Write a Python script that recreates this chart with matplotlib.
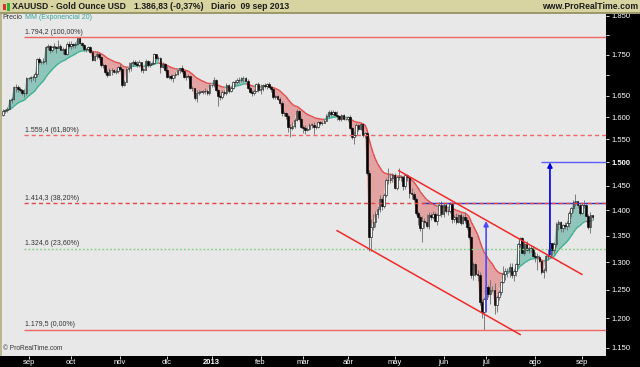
import numpy as np
import pandas as pd
import matplotlib
matplotlib.use('Agg')
import matplotlib.pyplot as plt
from matplotlib.patches import Rectangle
from matplotlib.collections import LineCollection
from matplotlib.ticker import NullLocator

plt.rcParams['font.family'] = ['Liberation Sans', 'DejaVu Sans']

# XAUUSD daily, 16 ago 2012 -> 09 sep 2013 (weekdays)
dates = pd.bdate_range('2012-08-16', '2013-09-09')
first_open = 1606

closes = [
    1615, 1616, 1620, 1639, 1643, 1670, 1671, 1665, 1664, 1657, 1656, 1692,
    1692, 1695, 1694, 1702, 1740, 1731, 1733, 1734, 1769, 1772, 1761, 1770, 1770, 1768, 1773, 1763, 1764, 1752, 1778, 1772,
    1776, 1775, 1778, 1792, 1780, 1775, 1764, 1764, 1769, 1757, 1738, 1746, 1752, 1744, 1724, 1724, 1707, 1701, 1712, 1713, 1708, 1709, 1719,
    1715, 1676, 1684, 1715, 1716, 1730, 1731, 1728, 1724, 1731, 1713, 1713, 1735, 1725, 1728, 1729, 1751, 1742, 1743, 1720, 1726, 1712,
    1695, 1697, 1693, 1699, 1702, 1711, 1716, 1710, 1696, 1697, 1697, 1669, 1668, 1645, 1657, 1660, 1660, 1661, 1661, 1656, 1676,
    1676, 1688, 1664, 1650, 1646, 1660, 1656, 1676, 1661, 1668, 1682, 1683, 1688, 1687, 1692, 1692, 1685, 1669, 1658, 1656, 1662, 1677, 1663,
    1667, 1675, 1673, 1677, 1670, 1667, 1648, 1649, 1643, 1634, 1609, 1610, 1604, 1577, 1576, 1581, 1593, 1615, 1595, 1578,
    1576, 1572, 1574, 1583, 1583, 1577, 1578, 1589, 1587, 1588, 1592, 1604, 1613, 1607, 1613, 1606, 1604, 1597, 1605, 1596, 1596,
    1600, 1576, 1555, 1560, 1582, 1574, 1584, 1559, 1564, 1477, 1348, 1368, 1377, 1392, 1402, 1424, 1410, 1431, 1463, 1462, 1467, 1473,
    1446, 1468, 1469, 1468, 1450, 1472, 1468, 1435, 1433, 1424, 1394, 1386, 1365, 1379, 1377, 1370, 1391, 1386, 1392, 1379, 1391, 1411, 1392,
    1411, 1398, 1398, 1414, 1383, 1387, 1378, 1390, 1375, 1387, 1382, 1367, 1348, 1276, 1297, 1278, 1276, 1228, 1211, 1234,
    1254, 1242, 1250, 1249, 1223, 1236, 1246, 1264, 1278, 1284, 1283, 1291, 1277, 1283, 1296, 1335, 1346, 1318, 1335, 1322, 1327, 1324, 1312,
    1310, 1310, 1303, 1282, 1285, 1311, 1312, 1336, 1322, 1335, 1374, 1377, 1366, 1372, 1369, 1376, 1395, 1405, 1418, 1419, 1411, 1395,
    1412, 1411, 1389, 1367, 1391, 1387,
]
highs = [
    1620, 1620, 1624, 1642, 1648, 1673, 1677, 1676, 1671, 1667, 1665, 1694,
    1696, 1697, 1700, 1707, 1741, 1745, 1737, 1741, 1772, 1778, 1774, 1772, 1779, 1772, 1787, 1776, 1770, 1766, 1781, 1786,
    1786, 1780, 1781, 1796, 1796, 1783, 1777, 1768, 1772, 1772, 1759, 1750, 1756, 1754, 1748, 1730, 1727, 1712, 1716, 1717, 1715, 1715, 1723,
    1726, 1718, 1688, 1719, 1732, 1733, 1738, 1738, 1734, 1736, 1733, 1718, 1739, 1738, 1735, 1733, 1754, 1752, 1748, 1745, 1731, 1730,
    1722, 1700, 1702, 1700, 1707, 1713, 1718, 1724, 1712, 1700, 1703, 1697, 1673, 1669, 1664, 1664, 1662, 1663, 1669, 1665, 1677,
    1678, 1694, 1690, 1665, 1652, 1663, 1664, 1680, 1679, 1673, 1685, 1688, 1693, 1694, 1695, 1697, 1694, 1691, 1673, 1663, 1667, 1681, 1684,
    1679, 1678, 1681, 1681, 1682, 1673, 1669, 1653, 1652, 1646, 1638, 1614, 1613, 1608, 1585, 1589, 1598, 1620, 1616, 1600,
    1583, 1582, 1578, 1586, 1588, 1590, 1583, 1592, 1592, 1591, 1595, 1608, 1617, 1616, 1617, 1615, 1615, 1606, 1608, 1608, 1599,
    1604, 1605, 1578, 1568, 1588, 1584, 1588, 1588, 1567, 1567, 1484, 1383, 1392, 1398, 1410, 1431, 1427, 1436, 1467, 1487, 1477, 1478,
    1477, 1471, 1488, 1474, 1470, 1476, 1475, 1470, 1445, 1437, 1428, 1398, 1391, 1389, 1385, 1392, 1397, 1394, 1398, 1397, 1395, 1417, 1419,
    1416, 1415, 1404, 1417, 1417, 1391, 1394, 1393, 1395, 1391, 1396, 1386, 1375, 1349, 1301, 1298, 1285, 1282, 1234, 1236,
    1267, 1259, 1267, 1257, 1262, 1240, 1250, 1266, 1293, 1289, 1290, 1298, 1298, 1288, 1298, 1337, 1348, 1347, 1338, 1340, 1331, 1331, 1330,
    1320, 1318, 1314, 1305, 1290, 1316, 1324, 1340, 1337, 1338, 1377, 1382, 1380, 1374, 1377, 1380, 1398, 1406, 1421, 1434, 1420, 1413,
    1415, 1421, 1414, 1392, 1396, 1391,
]
lows = [
    1604, 1610, 1612, 1618, 1634, 1640, 1659, 1660, 1658, 1652, 1648, 1651,
    1688, 1684, 1688, 1683, 1696, 1726, 1726, 1728, 1727, 1762, 1754, 1757, 1764, 1755, 1767, 1762, 1753, 1749, 1750, 1768,
    1765, 1766, 1768, 1774, 1776, 1769, 1760, 1757, 1760, 1754, 1734, 1734, 1740, 1740, 1720, 1718, 1703, 1695, 1700, 1700, 1704, 1703, 1706,
    1710, 1672, 1673, 1682, 1708, 1710, 1723, 1725, 1720, 1720, 1708, 1705, 1711, 1720, 1719, 1726, 1728, 1738, 1738, 1705, 1716, 1710,
    1693, 1689, 1688, 1684, 1693, 1700, 1704, 1706, 1692, 1688, 1692, 1667, 1662, 1640, 1636, 1652, 1658, 1655, 1655, 1652, 1653,
    1672, 1671, 1662, 1626, 1640, 1643, 1652, 1651, 1656, 1659, 1665, 1673, 1678, 1681, 1683, 1683, 1682, 1665, 1656, 1650, 1651, 1659, 1659,
    1655, 1662, 1668, 1666, 1668, 1659, 1643, 1642, 1640, 1630, 1604, 1603, 1595, 1567, 1555, 1571, 1575, 1592, 1593, 1576,
    1565, 1563, 1569, 1571, 1575, 1561, 1573, 1575, 1582, 1583, 1586, 1591, 1601, 1604, 1605, 1604, 1594, 1591, 1591, 1593, 1594,
    1592, 1574, 1550, 1539, 1558, 1568, 1570, 1555, 1554, 1472, 1321, 1321, 1362, 1368, 1384, 1396, 1400, 1405, 1427, 1455, 1456, 1459,
    1444, 1441, 1462, 1460, 1442, 1443, 1460, 1426, 1424, 1420, 1391, 1371, 1359, 1338, 1366, 1365, 1364, 1382, 1383, 1377, 1372, 1390, 1387,
    1387, 1395, 1391, 1395, 1375, 1377, 1374, 1375, 1372, 1373, 1376, 1363, 1344, 1271, 1268, 1274, 1265, 1223, 1200, 1180,
    1229, 1236, 1224, 1245, 1207, 1211, 1232, 1240, 1262, 1267, 1273, 1272, 1270, 1265, 1275, 1293, 1329, 1317, 1313, 1321, 1318, 1320, 1310,
    1301, 1285, 1300, 1279, 1271, 1282, 1305, 1308, 1313, 1318, 1329, 1362, 1358, 1358, 1364, 1362, 1368, 1386, 1397, 1408, 1405, 1391,
    1393, 1404, 1386, 1364, 1355, 1382,
]

# Fibonacci retracement levels
fib_values = [1794.2, 1559.4, 1414.3, 1324.6, 1179.5]
fib_labels = ['1.794,2 (100,00%)', '1.559,4 (61,80%)', '1.414,3 (38,20%)',
              '1.324,6 (23,60%)', '1.179,5 (0,00%)']
fib_start = '2012-08-30'

# channel lines: (date, price) pairs
upper_channel = [('2013-05-03', 1482), ('2013-09-02', 1277.5)]
lower_channel = [('2013-03-25', 1360), ('2013-07-23', 1172)]

# projection arrows (date, from, to)
arrow1 = ('2013-07-01', 1211, 1379)
arrow2 = ('2013-08-12', 1314, 1500)
target_line = ('2013-08-06', 1500)
breakout_line = ('2013-05-20', 1414.3)

yticks = [1150, 1200, 1250, 1300, 1350, 1400, 1450, 1500, 1550, 1600, 1650, 1700, 1750, 1800, 1850]
ytick_labels = ['1.150', '1.200', '1.250', '1.300', '1.350', '1.400', '1.450', '1.500',
                '1.550', '1.600', '1.650', '', '1.750', '', '1.850']
month_starts = ['2012-09-03', '2012-10-01', '2012-11-01', '2012-12-03', '2013-01-01', '2013-02-01',
                '2013-03-01', '2013-04-01', '2013-05-01', '2013-06-03', '2013-07-01', '2013-08-01', '2013-09-02']
month_labels = ['sep', 'oct', 'nov', 'dic', '2013', 'feb', 'mar', 'abr', 'may', 'jun', 'jul', 'ago', 'sep']

close = np.array(closes, dtype=float)
high = np.array(highs, dtype=float)
low = np.array(lows, dtype=float)
opn = np.concatenate([[first_open], close[:-1]])  # spot: open = previous close
xs = np.arange(len(dates))
ema = pd.Series(close).ewm(span=20, adjust=False).mean().values

def idx(d):
    return dates.get_loc(pd.Timestamp(d))

W, H = 640, 367
fig = plt.figure(figsize=(6.4, 3.67), dpi=100, facecolor='black')
ax = fig.add_axes([2 / W, 11 / H, 603.5 / W, (H - 13.5 - 11) / H])
ax.set_facecolor('#e8e8e8')
ax.set_yscale('log')
x_right = 283.1
ax.set_xlim(-0.47, x_right)
ax.set_ylim(1136.5, 1856.5)
for s in ax.spines.values():
    s.set_visible(False)

# EMA fill + line
up = close >= ema
ax.fill_between(xs, close, ema, where=up, interpolate=True, color='#8fc5ba', lw=0, zorder=1)
ax.fill_between(xs, close, ema, where=~up, interpolate=True, color='#e3a3a3', lw=0, zorder=1)
segs = [[(xs[i - 1], ema[i - 1]), (xs[i], ema[i])] for i in range(1, len(xs))]
seg_cols = ['#3bb08f' if up[i] else '#e24a4a' for i in range(1, len(xs))]
ax.add_collection(LineCollection(segs, colors=seg_cols, linewidths=1.0, zorder=2))

# candles
ax.vlines(xs, low, high, color='#6a6a6a', lw=0.6, zorder=3)
body_bot = np.minimum(opn, close)
body_h = np.maximum(np.abs(close - opn), 0.8)
face = ['white' if c >= o else 'black' for o, c in zip(opn, close)]
ax.bar(xs, body_h, bottom=body_bot, width=0.75, color=face, edgecolor='black', lw=0.4, zorder=4)

# fibonacci levels
fx = idx(fib_start)
fib_styles = [('#f06565', '-', 1.0), ('#f06565', (0, (3, 2.2)), 1.0), ('#e04848', (0, (3, 2.2)), 1.0),
              ('#86cf86', (0, (1.4, 1.4)), 1.0), ('#f06565', '-', 1.0)]
bx, bv = breakout_line
ax.hlines(bv, idx(bx), x_right, color='#3030c8', lw=1.0, zorder=5)
for v, lab, (c, ls, lw) in zip(fib_values, fib_labels, fib_styles):
    ax.hlines(v, fx, x_right, color=c, linestyles=[ls], lw=lw, zorder=5)
    ax.annotate(lab, (fx + 0.3, v), xytext=(0, 1.2), textcoords='offset points',
                fontsize=5, color='#333333', va='bottom', ha='left', zorder=6)

# channel
for ch in (upper_channel, lower_channel):
    ax.plot([idx(ch[0][0]), idx(ch[1][0])], [ch[0][1], ch[1][1]], color='#f02a2a', lw=1.1, zorder=6)

# target line + arrows
tx, tv = target_line
ax.hlines(tv, idx(tx), x_right, color='#5a5aff', lw=1.0, zorder=6)
for (d, y0, y1), c in ((arrow1, '#4a4aff'), (arrow2, '#0000dd')):
    ax.annotate('', xy=(idx(d), y1), xytext=(idx(d), y0),
                arrowprops=dict(arrowstyle='-|>', color=c, lw=1.2, mutation_scale=7,
                                shrinkA=0, shrinkB=0), zorder=7)

# axes ticks
ax.yaxis.tick_right()
ax.set_yticks(yticks)
ax.set_yticklabels(ytick_labels)
ax.yaxis.set_minor_locator(NullLocator())
ax.tick_params(axis='y', colors='white', labelsize=5.5, length=2.5, width=0.6, pad=1.5)
for t in ax.get_yticklabels():
    if t.get_text() == '1.500':
        t.set_fontweight('bold')
ax.set_xticks([idx(d) for d in month_starts])
ax.set_xticklabels(month_labels)
ax.tick_params(axis='x', colors='white', labelsize=5.5, length=2, width=0.6, pad=0.5)
for t in ax.get_xticklabels():
    if t.get_text() == '2013':
        t.set_fontweight('bold')

# header bar
fig.patches.append(Rectangle((0, 1 - 12.5 / H), 1, 12.5 / H, transform=fig.transFigure,
                             facecolor='#d7d4a2', edgecolor='none', zorder=0))
fig.patches.append(Rectangle((0, 1 - 13.5 / H), 1, 1 / H, transform=fig.transFigure,
                             facecolor='#9c9a6c', edgecolor='none', zorder=0))
fig.patches.append(Rectangle((0, 11 / H), 2 / W, (H - 24.5) / H, transform=fig.transFigure,
                             facecolor='#b8b78e', edgecolor='none', zorder=0))
fig.patches.append(Rectangle((3 / W, 1 - 10 / H), 3 / W, 6 / H, transform=fig.transFigure,
                             facecolor='#e03030', edgecolor='none', zorder=1))
fig.patches.append(Rectangle((7 / W, 1 - 11 / H), 3 / W, 8 / H, transform=fig.transFigure,
                             facecolor='#30b030', edgecolor='none', zorder=1))

hy = 1 - 6.5 / H
fig.text(12 / W, hy, 'XAUUSD - Gold Ounce USD', fontsize=6.2, fontweight='bold', color='#1a1a1a', va='center')
fig.text(134 / W, hy, '1.386,83 (-0,37%)', fontsize=6.2, fontweight='bold', color='#1a1a1a', va='center')
fig.text(211 / W, hy, 'Diario  09 sep 2013', fontsize=6.2, fontweight='bold', color='#1a1a1a', va='center')
fig.text(638 / W, hy, 'www.ProRealTime.com', fontsize=6.2, fontweight='bold', color='#1a1a1a', va='center', ha='right')

fig.text(2.5 / W, 1 - 17.5 / H, 'Precio', fontsize=5, color='#333333', va='center')
fig.text(25 / W, 1 - 17.5 / H, 'MM (Exponencial 20)', fontsize=5, color='#35a59c', va='center')
fig.text(3 / W, 1 - 349 / H, '\u00a9 ProRealTime.com', fontsize=4.8, color='#333333', va='center')

fig.savefig('out.png', dpi=100, facecolor=fig.get_facecolor())
